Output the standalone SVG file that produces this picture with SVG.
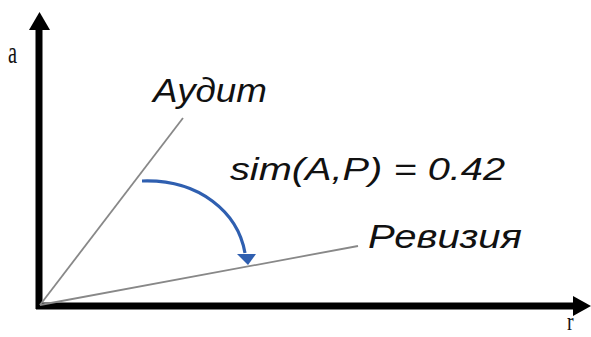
<svg xmlns="http://www.w3.org/2000/svg" width="591" height="337" viewBox="0 0 591 337">
  <style>
    .axis { stroke: #000; stroke-width: 7; fill: none; }
    .vec { stroke: #888; stroke-width: 1.8; fill: none; }
    .lbl { font-family: "Liberation Sans", Arial, sans-serif; font-style: italic; fill: #111; }
    .ax { font-family: "Liberation Serif", "Times New Roman", serif; fill: #111; }
  </style>
  <rect width="591" height="337" fill="#fff"/>
  <g id="connectors">
    <line class="axis" x1="39" y1="309" x2="39" y2="28"/>
    <polygon points="29,30 50,30 39.5,12" fill="#000"/>
    <line class="axis" x1="36" y1="306" x2="575" y2="306"/>
    <polygon points="573,296 573,316 591,306" fill="#000"/>
    <line class="vec" x1="40" y1="305" x2="183" y2="118"/>
    <line class="vec" x1="40" y1="305" x2="358" y2="246"/>
    <path d="M142,181 C200,179 238,213 245,253" stroke="#2f5fb0" stroke-width="3.2" fill="none"/>
    <polygon points="237,254 256,254 248,265" fill="#2f5fb0"/>
  </g>
  <g id="label-a"><text class="ax" x="0" y="0" font-size="24" transform="translate(8,63) scale(0.85,1.35)">a</text></g>
  <g id="label-r"><text class="ax" x="0" y="0" font-size="22" transform="translate(567,330) scale(0.9,1.1)">r</text></g>
  <g id="node-audit"><text class="lbl" x="153" y="102" font-size="34" textLength="114" lengthAdjust="spacingAndGlyphs">Аудит</text></g>
  <g id="node-sim"><text class="lbl" x="230" y="180" font-size="32" textLength="275" lengthAdjust="spacingAndGlyphs">sim(A,P) = 0.42</text></g>
  <g id="node-revision"><text class="lbl" x="368" y="248" font-size="33" textLength="154" lengthAdjust="spacingAndGlyphs">Ревизия</text></g>
</svg>
